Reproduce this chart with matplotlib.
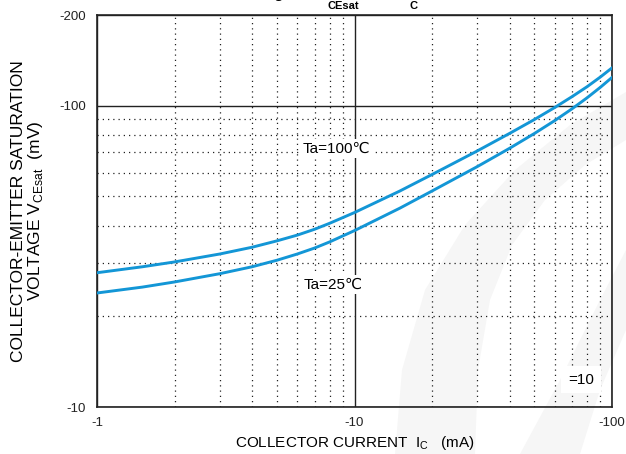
import numpy as np
import matplotlib
matplotlib.use("Agg")
import matplotlib.pyplot as plt
from matplotlib.patches import Polygon

plt.rcParams['font.family'] = ['Liberation Sans', 'DejaVu Sans']

# collector current |Ic| (mA) and saturation voltage |VCEsat| (mV)
ic = [1, 1.5, 2, 3, 4, 5, 6, 7, 8, 10, 15, 20, 30, 40, 50, 60, 70, 80, 90, 100]
vce_100 = [27.9, 29.2, 30.3, 32.2, 33.9, 35.6, 37.2, 38.9, 40.7, 44.2, 52.1, 59.1,
           70.8, 80.9, 90.0, 98.7, 107.2, 115.6, 124.4, 133.5]
vce_25 = [23.9, 25.0, 26.0, 27.7, 29.2, 30.7, 32.2, 33.7, 35.3, 38.5, 45.7, 52.1,
          62.8, 72.2, 80.9, 89.3, 97.7, 106.2, 115.0, 124.1]

xticks = [1, 10, 100]
xticklabels = ['-1', '-10', '-100']
yticks = [10, 100, 200]
yticklabels = ['-10', '-100', '-200']

blue = '#1396d6'
W, H = 626, 454

fig = plt.figure(figsize=(W / 100, H / 100), dpi=100)

# faint watermark bands behind the chart
def px(pts):
    return [(x / W, 1 - y / H) for x, y in pts]

band1 = [(395, 454), (402, 370), (425, 290), (465, 225), (515, 170), (570, 125), (626, 92),
         (626, 140), (585, 165), (545, 200), (512, 245), (490, 300), (478, 370), (475, 454)]
band2 = [(520, 454), (560, 380), (600, 300), (626, 250), (626, 330), (600, 390), (580, 454)]
for b in (band1, band2):
    fig.patches.append(Polygon(px(b), closed=True, transform=fig.transFigure,
                               facecolor='#f6f6f6', edgecolor='none', zorder=-5))

ax = fig.add_axes([97 / W, 1 - 407 / H, (612 - 97) / W, (407 - 15) / H])
ax.set_facecolor('none')
ax.set_xscale('log')
ax.set_yscale('log')
ax.set_xlim(1, 100)
ax.set_ylim(10, 200)

ax.plot(ic, vce_100, color=blue, lw=2.1, zorder=4)
ax.plot(ic, vce_25, color=blue, lw=2.1, zorder=4)

ax.set_xticks(xticks)
ax.set_xticklabels(xticklabels)
ax.set_yticks(yticks)
ax.set_yticklabels(yticklabels)
ax.xaxis.set_minor_formatter(plt.NullFormatter())
ax.yaxis.set_minor_formatter(plt.NullFormatter())
ax.tick_params(which='both', length=0, labelsize=9.5, colors='#222222')
ax.tick_params(axis='x', pad=7)
ax.tick_params(axis='y', pad=8)

ax.grid(which='major', color='#222222', lw=1.0, ls='-')
ax.grid(which='minor', color='#222222', lw=0.9, ls=(0, (1, 3.2)))
for s in ax.spines.values():
    s.set_color('#222222')
    s.set_linewidth(1.2)

ax.set_xlabel('COLLECTOR CURRENT  I$_{\\mathregular{C}}$   (mA)', fontsize=11, labelpad=4)
ax.set_ylabel('COLLECTOR-EMITTER SATURATION\nVOLTAGE V$_{\\mathregular{CEsat}}$  (mV)',
              fontsize=12.5, labelpad=10, linespacing=1.05)

box = dict(facecolor='white', edgecolor='none', pad=2)
ax.text(8.5, 72, 'Ta=100℃', ha='center', va='center', fontsize=11, bbox=box,
        family=['Liberation Sans', 'DejaVu Sans'], zorder=5)
ax.text(8.3, 25.5, 'Ta=25℃', ha='center', va='center', fontsize=11, bbox=box,
        family=['Liberation Sans', 'DejaVu Sans'], zorder=5)
ax.text(0.965, 0.07, '=10', transform=ax.transAxes, ha='right', va='center',
        fontsize=11, bbox=dict(facecolor='white', edgecolor='none', pad=5), zorder=5)

# title, cut off by the top edge of the picture: only descender and subscripts show
fig.text(238 / W, 1 + 2 / H, 'Voltage  V', ha='left', va='baseline',
         fontsize=11, fontweight='bold')
fig.text(343 / W, 1 - 1 / H, 'CEsat', ha='center', va='top',
         fontsize=8, fontweight='bold')
fig.text(390 / W, 1 + 2 / H, 'vs. I', ha='left', va='baseline',
         fontsize=11, fontweight='bold')
fig.text(413 / W, 1 - 1 / H, 'C', ha='center', va='top',
         fontsize=8, fontweight='bold')

fig.savefig('out.png', dpi=100)
